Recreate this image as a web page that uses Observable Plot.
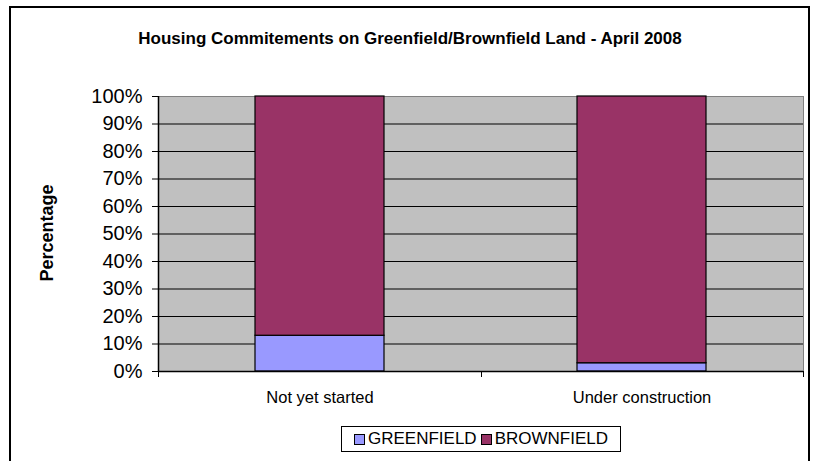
<!DOCTYPE html>
<html>
<head>
<meta charset="utf-8">
<script src="https://cdn.jsdelivr.net/npm/d3@7"></script>
<script src="https://cdn.jsdelivr.net/npm/@observablehq/plot@0.6"></script>
<style>
  html, body { margin: 0; padding: 0; background: #fff; }
  body { width: 820px; height: 461px; position: relative; overflow: hidden; font-family: "Liberation Sans", Arial, sans-serif; }
  #frame { position: absolute; left: 9px; top: 6px; width: 801px; height: 480px; border: 2px solid #000; box-sizing: border-box; }
  #title { position: absolute; left: 0; top: 29px; width: 820px; text-align: center; font-weight: bold; font-size: 17px; color: #000; }
  #ylabel { position: absolute; left: 47px; top: 233px; transform: translate(-50%, -50%) rotate(-90deg); font-weight: bold; font-size: 18px; white-space: nowrap; }
  #chart { position: absolute; left: 0; top: 66px; }
  #legend { position: absolute; left: 341px; top: 426px; width: 280px; height: 26px; border: 1px solid #000; box-sizing: border-box; display: flex; align-items: center; justify-content: center; font-size: 17px; background: #fff; }
  .item { display: flex; align-items: center; margin: 0 2px; }
  .sw { width: 9px; height: 9px; border: 1px solid #000; margin-right: 3px; }
</style>
</head>
<body>
<div id="frame"></div>
<div id="title">Housing Commitements on Greenfield/Brownfield Land - April 2008</div>
<div id="ylabel">Percentage</div>
<div id="chart"></div>
<div id="legend"></div>
<script>
const categories = ["Not yet started", "Under construction"];
const seriesNames = ["GREENFIELD", "BROWNFIELD"];
const seriesColors = ["#9999FF", "#993366"];
const greenfield = [13, 3];
const brownfield = [87, 97];
const yTicks = [0, 10, 20, 30, 40, 50, 60, 70, 80, 90, 100];
const gridTicks = [10, 20, 30, 40, 50, 60, 70, 80, 90];

const rows = [];
categories.forEach((c, i) => {
  rows.push({category: c, series: seriesNames[0], value: greenfield[i]});
  rows.push({category: c, series: seriesNames[1], value: brownfield[i]});
});

const boundaryTicks = (index, scales, values, dimensions) => {
  const x = scales.x;
  const bw = typeof x.bandwidth === "function" ? x.bandwidth() : x.bandwidth;
  const y0 = dimensions.height - dimensions.marginBottom;
  const xs = [dimensions.marginLeft];
  for (let i = 0; i < categories.length - 1; i++) {
    xs.push((x(categories[i]) + bw + x(categories[i + 1])) / 2);
  }
  xs.push(dimensions.width - dimensions.marginRight);
  const g = document.createElementNS("http://www.w3.org/2000/svg", "g");
  xs.forEach(px => {
    const l = document.createElementNS("http://www.w3.org/2000/svg", "line");
    const xx = Math.round(px) + 0.5;
    l.setAttribute("x1", xx); l.setAttribute("x2", xx);
    l.setAttribute("y1", y0); l.setAttribute("y2", y0 + 6);
    l.setAttribute("stroke", "#000");
    g.appendChild(l);
  });
  return g;
};

const chart = Plot.plot({
  width: 820,
  height: 340,
  marginLeft: 158,
  marginRight: 17,
  marginTop: 30,
  marginBottom: 35,
  style: {fontFamily: "'Liberation Sans', Arial, sans-serif", color: "#000", background: "transparent"},
  x: {domain: categories, paddingInner: 0.6, paddingOuter: 0.3, axis: null},
  y: {domain: [0, 100], axis: null},
  color: {domain: seriesNames, range: seriesColors},
  marks: [
    Plot.frame({fill: "#C0C0C0", stroke: "#808080"}),
    Plot.ruleY(gridTicks, {stroke: "#000", strokeWidth: 1}),
    Plot.barY(rows, {x: "category", y: "value", fill: "series", stroke: "#000", strokeWidth: 1.2}),
    Plot.ruleY([0], {stroke: "#000", strokeWidth: 1.5}),
    Plot.axisY(yTicks, {tickSize: 6, tickPadding: 10, fontSize: 20, tickFormat: d => d + "%", label: null, stroke: "#000"}),
    Plot.axisX({tickSize: 0, tickPadding: 20, fontSize: 16.5, label: null}),
    boundaryTicks
  ]
});
document.getElementById("chart").appendChild(chart);

// left axis line, from the y scale
{
  const l = document.createElementNS("http://www.w3.org/2000/svg", "line");
  const ys = chart.scale("y");
  const x0 = 158 + 0.5;
  l.setAttribute("x1", x0); l.setAttribute("x2", x0);
  l.setAttribute("y1", ys.apply(100)); l.setAttribute("y2", ys.apply(0));
  l.setAttribute("stroke", "#000");
  l.setAttribute("stroke-width", "1.5");
  chart.appendChild(l);
}

const legend = document.getElementById("legend");
seriesNames.forEach((s, i) => {
  const it = document.createElement("div");
  it.className = "item";
  const sw = document.createElement("div");
  sw.className = "sw";
  sw.style.background = seriesColors[i];
  const t = document.createElement("span");
  t.textContent = s;
  it.appendChild(sw); it.appendChild(t);
  legend.appendChild(it);
});
</script>
</body>
</html>
